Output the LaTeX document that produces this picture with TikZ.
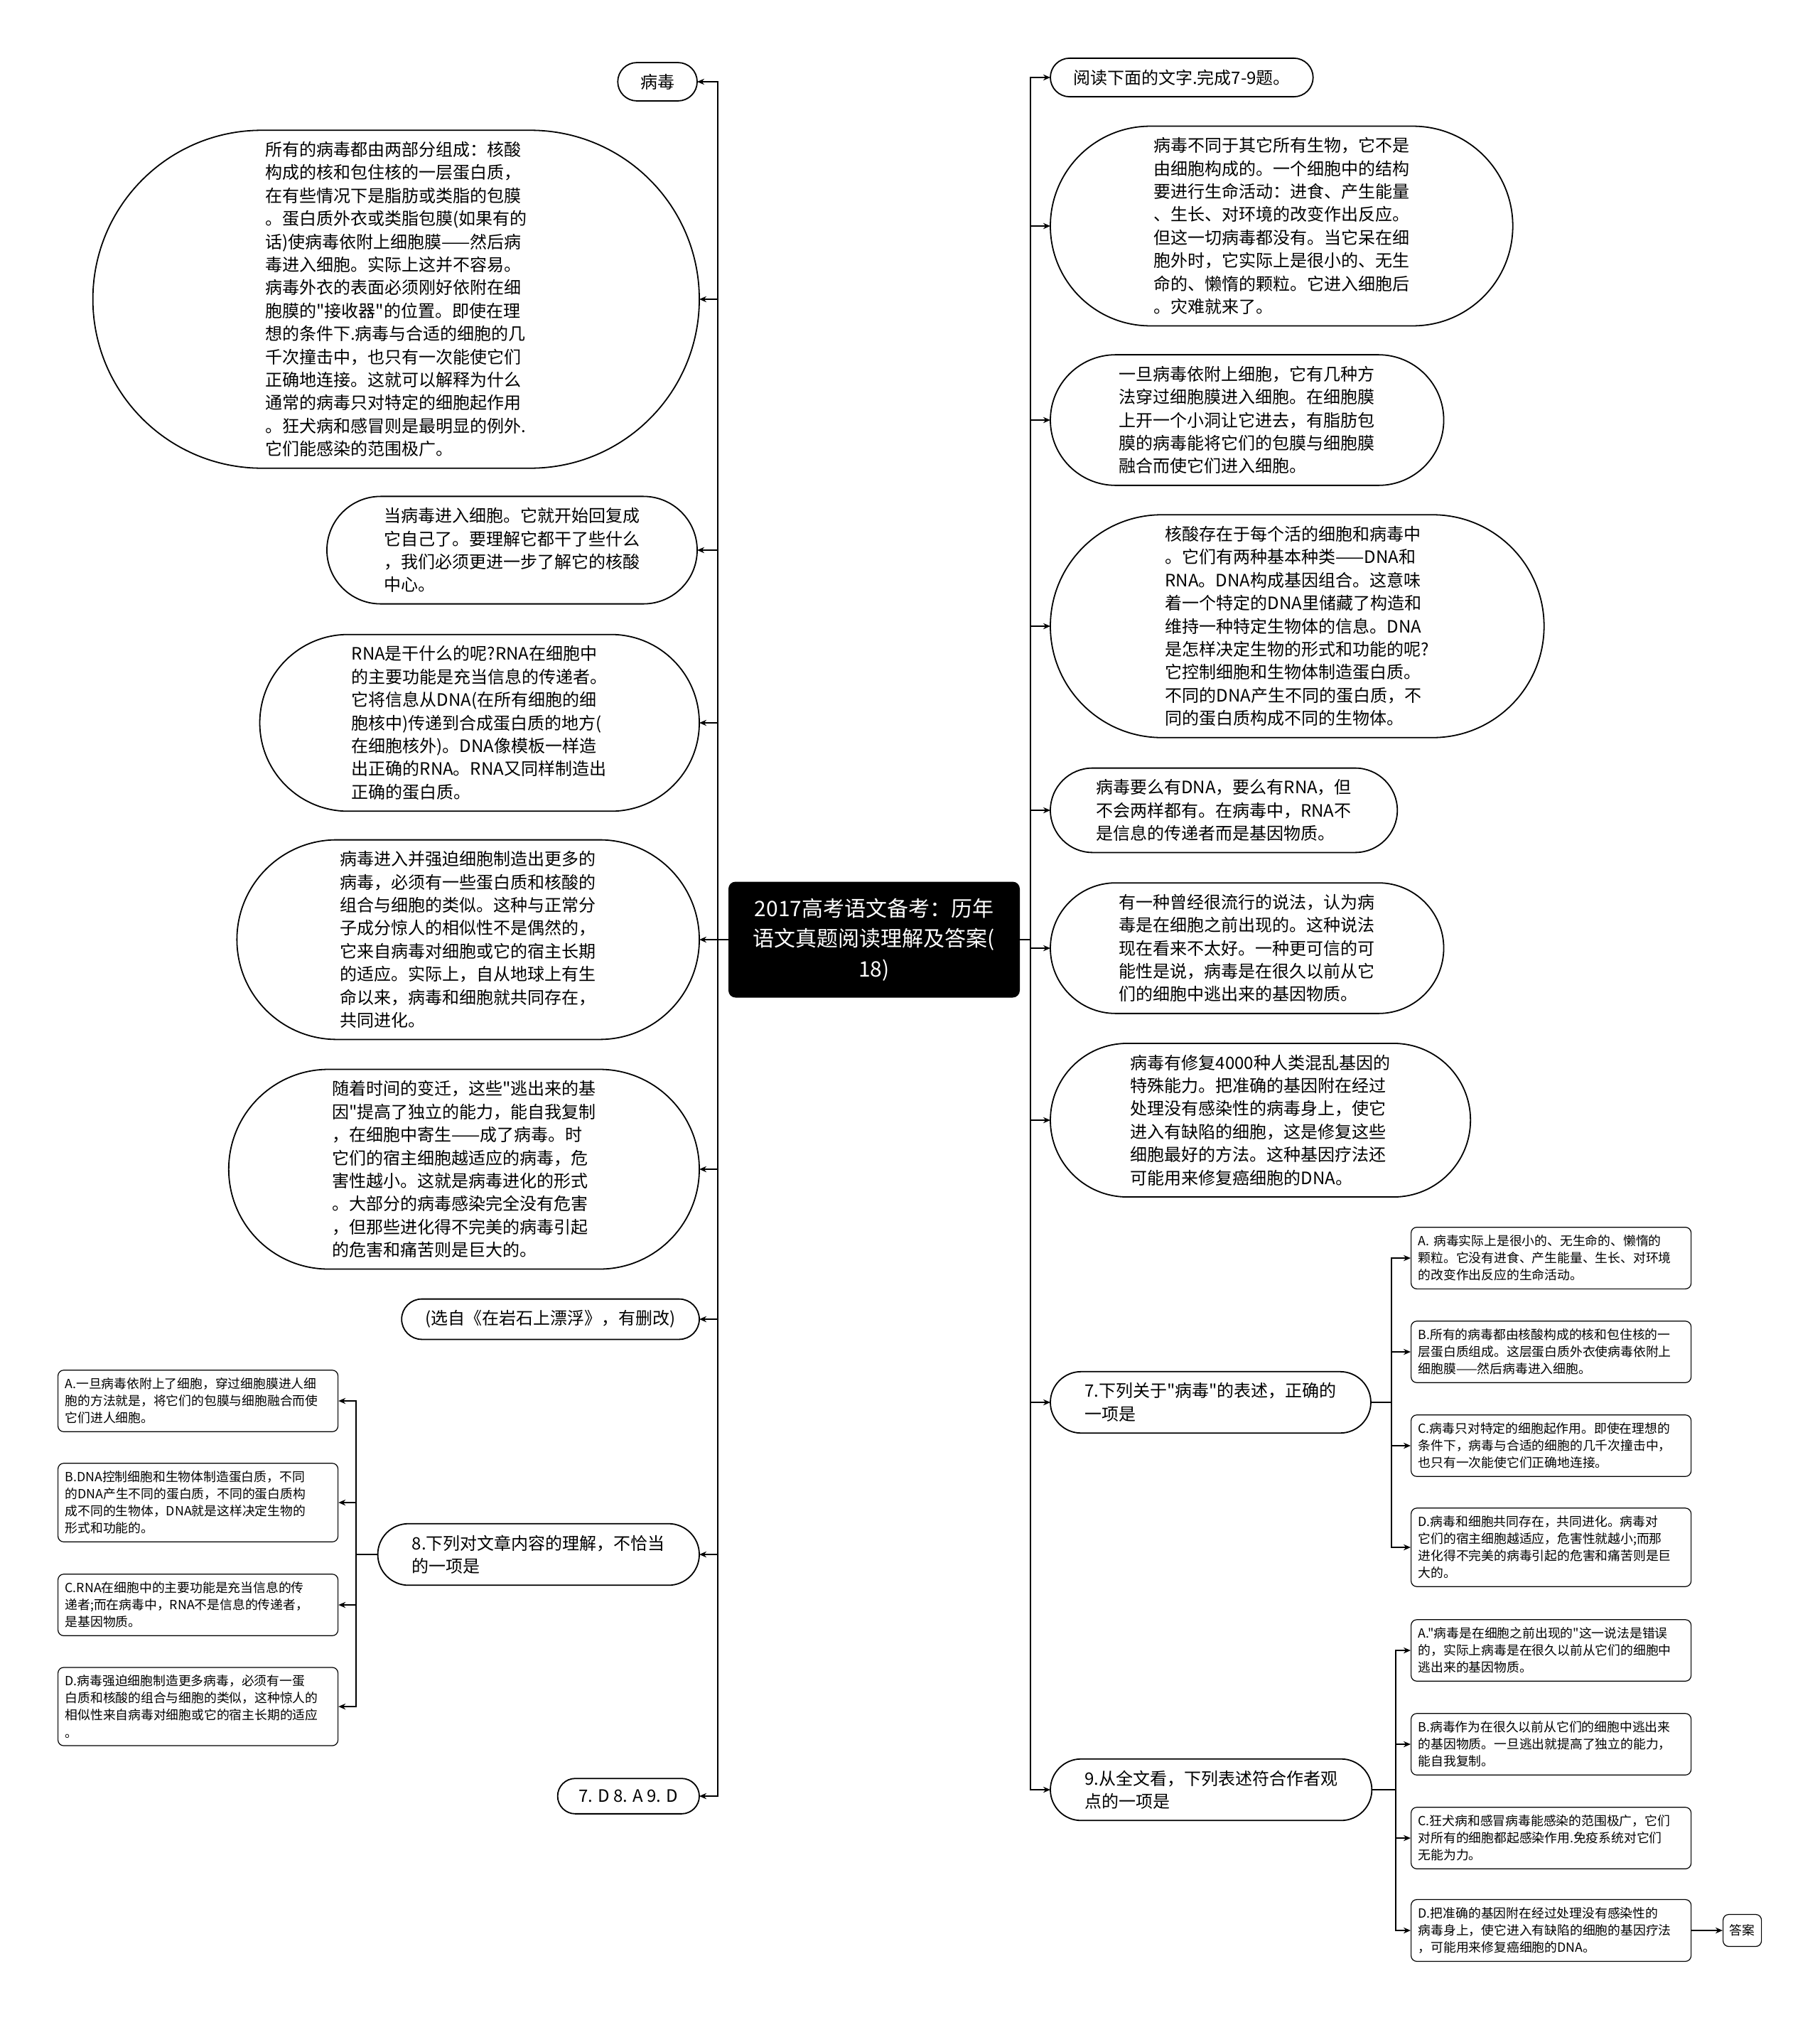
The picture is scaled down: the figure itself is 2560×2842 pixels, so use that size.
\documentclass[tikz,border=0pt]{standalone}
\usepackage{fontspec}
\newfontfamily\nf{Noto Sans CJK SC}
\usetikzlibrary{arrows.meta}
\makeatletter
\newdimen\stR \newdimen\stXa \newdimen\stXb \newdimen\stYa \newdimen\stYb
\pgfdeclareshape{stadium}{%
  \inheritsavedanchors[from=rectangle]%
  \inheritanchor[from=rectangle]{center}%
  \inheritanchor[from=rectangle]{north}%
  \inheritanchor[from=rectangle]{south}%
  \inheritanchor[from=rectangle]{base}%
  \inheritanchor[from=rectangle]{mid}%
  \anchor{east}{%
    \southwest \pgf@ya=\pgf@y
    \northeast \pgf@yb=\pgf@y
    \advance\pgf@x by 0.5\pgf@yb
    \advance\pgf@x by -0.5\pgf@ya
    \pgf@y=0.5\pgf@yb \advance\pgf@y by 0.5\pgf@ya}%
  \anchor{west}{%
    \northeast \pgf@yb=\pgf@y
    \southwest \pgf@ya=\pgf@y
    \advance\pgf@x by -0.5\pgf@yb
    \advance\pgf@x by 0.5\pgf@ya
    \pgf@y=0.5\pgf@yb \advance\pgf@y by 0.5\pgf@ya}%
  \backgroundpath{%
    \southwest \stXa=\pgf@x \stYa=\pgf@y
    \northeast \stXb=\pgf@x \stYb=\pgf@y
    \stR=0.5\stYb \advance\stR by -0.5\stYa
    \pgfpathmoveto{\pgfqpoint{\stXa}{\stYb}}%
    \pgfpathlineto{\pgfqpoint{\stXb}{\stYb}}%
    \pgfpatharc{90}{-90}{\stR}%
    \pgfpathlineto{\pgfqpoint{\stXa}{\stYa}}%
    \pgfpatharc{270}{90}{\stR}%
    \pgfpathclose}%
}
\makeatother
\begin{document}
\begin{tikzpicture}[x=0.5pt,y=-0.5pt,
  stad/.style={shape=stadium, draw=black, line width=0.9pt, inner xsep=2pt, inner ysep=7.5pt,
    align=left, font=\nf\fontsize{12pt}{16.2pt}\selectfont},
  opt/.style={rectangle, rounded corners=4pt, draw=black, line width=0.6pt, text width=187pt,
    inner xsep=5pt, inner ysep=5.5pt, align=left, font=\nf\fontsize{8.9pt}{12pt}\selectfont},
  ttl/.style={rectangle, rounded corners=5pt, fill=black, text=white, align=center,
    minimum width=205pt, minimum height=81.5pt, inner sep=4pt,
    font=\nf\fontsize{15pt}{21.3pt}\selectfont},
  ans/.style={rectangle, rounded corners=4pt, draw=black, line width=0.6pt,
    minimum width=27pt, minimum height=22.5pt, inner sep=2pt, font=\nf\fontsize{8.9pt}{12pt}\selectfont},
  arr/.style={-{Stealth[length=5pt,width=4.2pt]}, line width=1pt}
]
\fill[white] (0,0) rectangle (2560,2842);
\useasboundingbox (0,0) rectangle (2560,2842);

\coordinate (spL) at (1010,0);
\coordinate (spR) at (1450,0);
\coordinate (sb8) at (501,0);
\coordinate (sb7) at (1958,0);
\coordinate (sb9) at (1964,0);

% title
\node[ttl] (T) at (1230,1322) {2017高考语文备考：历年\\语文真题阅读理解及答案(\\18)};

% left side
\node[stad, anchor=east] (L1) at (981,115) {病毒};
\node[stad, anchor=east] (L2) at (984,421) {所有的病毒都由两部分组成：核酸\\构成的核和包住核的一层蛋白质，\\在有些情况下是脂肪或类脂的包膜\\。蛋白质外衣或类脂包膜(如果有的\\话)使病毒依附上细胞膜——然后病\\毒进入细胞。实际上这并不容易。\\病毒外衣的表面必须刚好依附在细\\胞膜的"接收器"的位置。即使在理\\想的条件下.病毒与合适的细胞的几\\千次撞击中，也只有一次能使它们\\正确地连接。这就可以解释为什么\\通常的病毒只对特定的细胞起作用\\。狂犬病和感冒则是最明显的例外.\\它们能感染的范围极广。};
\node[stad, anchor=east] (L3) at (981,774) {当病毒进入细胞。它就开始回复成\\它自己了。要理解它都干了些什么\\，我们必须更进一步了解它的核酸\\中心。};
\node[stad, anchor=east] (L4) at (984,1017) {RNA是干什么的呢?RNA在细胞中\\的主要功能是充当信息的传递者。\\它将信息从DNA(在所有细胞的细\\胞核中)传递到合成蛋白质的地方(\\在细胞核外)。DNA像模板一样造\\出正确的RNA。RNA又同样制造出\\正确的蛋白质。};
\node[stad, anchor=east] (L5) at (984,1322) {病毒进入并强迫细胞制造出更多的\\病毒，必须有一些蛋白质和核酸的\\组合与细胞的类似。这种与正常分\\子成分惊人的相似性不是偶然的，\\它来自病毒对细胞或它的宿主长期\\的适应。实际上，自从地球上有生\\命以来，病毒和细胞就共同存在，\\共同进化。};
\node[stad, anchor=east] (L6) at (984,1645) {随着时间的变迁，这些"逃出来的基\\因"提高了独立的能力，能自我复制\\，在细胞中寄生——成了病毒。时\\它们的宿主细胞越适应的病毒，危\\害性越小。这就是病毒进化的形式\\。大部分的病毒感染完全没有危害\\，但那些进化得不完美的病毒引起\\的危害和痛苦则是巨大的。};
\node[stad, anchor=east] (L7) at (984,1856) {(选自《在岩石上漂浮》，有删改)};
\node[stad, anchor=east] (L8) at (984,2187) {8.下列对文章内容的理解，不恰当\\的一项是};
\node[stad, anchor=east] (L9) at (984,2527) {7. D 8. A 9. D};

\node[opt, anchor=west] (LA) at (81,1971) {A.一旦病毒依附上了细胞，穿过细胞膜进人细\\胞的方法就是，将它们的包膜与细胞融合而使\\它们进人细胞。};
\node[opt, anchor=west] (LB) at (81,2114) {B.DNA控制细胞和生物体制造蛋白质，不同\\的DNA产生不同的蛋白质，不同的蛋白质构\\成不同的生物体，DNA就是这样决定生物的\\形式和功能的。};
\node[opt, anchor=west] (LC) at (81,2258) {C.RNA在细胞中的主要功能是充当信息的传\\递者;而在病毒中，RNA不是信息的传递者，\\是基因物质。};
\node[opt, anchor=west] (LD) at (81,2401) {D.病毒强迫细胞制造更多病毒，必须有一蛋\\白质和核酸的组合与细胞的类似，这种惊人的\\相似性来自病毒对细胞或它的宿主长期的适应\\。};

% right side
\node[stad, anchor=west] (R1) at (1478,109) {阅读下面的文字.完成7-9题。};
\node[stad, anchor=west] (R2) at (1478,318) {病毒不同于其它所有生物，它不是\\由细胞构成的。一个细胞中的结构\\要进行生命活动：进食、产生能量\\、生长、对环境的改变作出反应。\\但这一切病毒都没有。当它呆在细\\胞外时，它实际上是很小的、无生\\命的、懒惰的颗粒。它进入细胞后\\。灾难就来了。};
\node[stad, anchor=west] (R3) at (1478,591) {一旦病毒依附上细胞，它有几种方\\法穿过细胞膜进入细胞。在细胞膜\\上开一个小洞让它进去，有脂肪包\\膜的病毒能将它们的包膜与细胞膜\\融合而使它们进入细胞。};
\node[stad, anchor=west] (R4) at (1478,881) {核酸存在于每个活的细胞和病毒中\\。它们有两种基本种类——DNA和\\RNA。DNA构成基因组合。这意味\\着一个特定的DNA里储藏了构造和\\维持一种特定生物体的信息。DNA\\是怎样决定生物的形式和功能的呢?\\它控制细胞和生物体制造蛋白质。\\不同的DNA产生不同的蛋白质，不\\同的蛋白质构成不同的生物体。};
\node[stad, anchor=west] (R5) at (1478,1140) {病毒要么有DNA，要么有RNA，但\\不会两样都有。在病毒中，RNA不\\是信息的传递者而是基因物质。};
\node[stad, anchor=west] (R6) at (1478,1334) {有一种曾经很流行的说法，认为病\\毒是在细胞之前出现的。这种说法\\现在看来不太好。一种更可信的可\\能性是说，病毒是在很久以前从它\\们的细胞中逃出来的基因物质。};
\node[stad, anchor=west] (R7) at (1478,1576) {病毒有修复4000种人类混乱基因的\\特殊能力。把准确的基因附在经过\\处理没有感染性的病毒身上，使它\\进入有缺陷的细胞，这是修复这些\\细胞最好的方法。这种基因疗法还\\可能用来修复癌细胞的DNA。};
\node[stad, anchor=west] (R8) at (1478,1973) {7.下列关于"病毒"的表述，正确的\\一项是};
\node[stad, anchor=west] (R9) at (1478,2518) {9.从全文看，下列表述符合作者观\\点的一项是};

\node[opt, anchor=west] (RA1) at (1985,1770) {A.~病毒实际上是很小的、无生命的、懒惰的\\颗粒。它没有进食、产生能量、生长、对环境\\的改变作出反应的生命活动。};
\node[opt, anchor=west] (RB1) at (1985,1902) {B.所有的病毒都由核酸构成的核和包住核的一\\层蛋白质组成。这层蛋白质外衣使病毒依附上\\细胞膜——然后病毒进入细胞。};
\node[opt, anchor=west] (RC1) at (1985,2034) {C.病毒只对特定的细胞起作用。即使在理想的\\条件下，病毒与合适的细胞的几千次撞击中，\\也只有一次能使它们正确地连接。};
\node[opt, anchor=west] (RD1) at (1985,2177) {D.病毒和细胞共同存在，共同进化。病毒对\\它们的宿主细胞越适应，危害性就越小;而那\\进化得不完美的病毒引起的危害和痛苦则是巨\\大的。};

\node[opt, anchor=west] (RA2) at (1985,2322) {A."病毒是在细胞之前出现的"这一说法是错误\\的，实际上病毒是在很久以前从它们的细胞中\\逃出来的基因物质。};
\node[opt, anchor=west] (RB2) at (1985,2454) {B.病毒作为在很久以前从它们的细胞中逃出来\\的基因物质。一旦逃出就提高了独立的能力，\\能自我复制。};
\node[opt, anchor=west] (RC2) at (1985,2586) {C.狂犬病和感冒病毒能感染的范围极广，它们\\对所有的细胞都起感染作用.免疫系统对它们\\无能为力。};
\node[opt, anchor=west] (RD2) at (1985,2716) {D.把准确的基因附在经过处理没有感染性的\\病毒身上，使它进入有缺陷的细胞的基因疗法\\，可能用来修复癌细胞的DNA。};

\node[ans, anchor=west] (ANS) at (2424,2716) {答案};

% connectors
\foreach \n in {L1,L2,L3,L4,L5,L6,L7,L8,L9}
  \draw[arr] (T.west) -- (T.west -| spL) |- (\n.east);
\foreach \n in {R1,R2,R3,R4,R5,R6,R7,R8,R9}
  \draw[arr] (T.east) -- (T.east -| spR) |- (\n.west);
\foreach \n in {LA,LB,LC,LD}
  \draw[arr] (L8.west) -- (L8.west -| sb8) |- (\n.east);
\foreach \n in {RA1,RB1,RC1,RD1}
  \draw[arr] (R8.east) -- (R8.east -| sb7) |- (\n.west);
\foreach \n in {RA2,RB2,RC2,RD2}
  \draw[arr] (R9.east) -- (R9.east -| sb9) |- (\n.west);
\draw[arr] (RD2.east) -- (ANS.west);
\end{tikzpicture}
\end{document}
